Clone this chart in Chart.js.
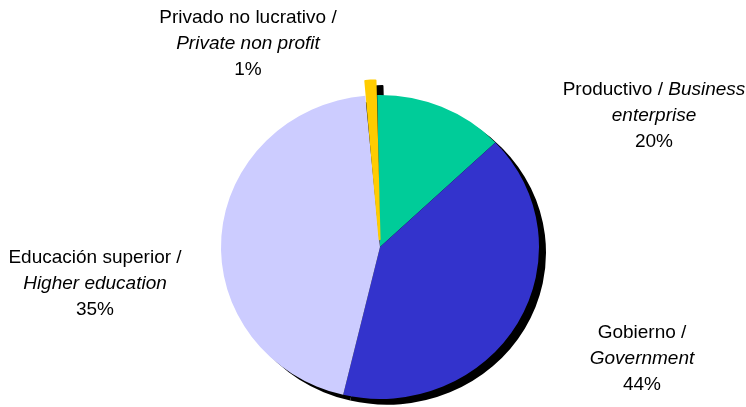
<!DOCTYPE html>
<html>
<head>
<meta charset="utf-8">
<script src="https://cdn.jsdelivr.net/npm/chart.js@4"></script>
<style>
  html, body { margin: 0; padding: 0; background: #fff; }
</style>
</head>
<body>
<canvas id="myChart" width="746" height="407"></canvas>
<script>
// sectors, clockwise from 12 o'clock
const sectors = ['Productivo / Business enterprise', 'Gobierno / Government', 'Educación superior / Higher education', 'Privado no lucrativo / Private non profit'];
// slice sizes as drawn in the picture (%)
const shares = [13.2, 40.8, 44.8, 1.2];
// percentages printed in the labels
const shareLabels = ['20%', '44%', '35%', '1%'];
const sliceColors = ['#00CC99', '#3333CC', '#CCCCFF', '#FFCC00'];

// label text: each line is a list of [text, italic]
const labelLines = [
  [[['Productivo / ', false], ['Business', true]], [['enterprise', true]], [[shareLabels[0], false]]],
  [[['Gobierno /', false]], [['Government', true]], [[shareLabels[1], false]]],
  [[['Educación superior /', false]], [['Higher education', true]], [[shareLabels[2], false]]],
  [[['Privado no lucrativo /', false]], [['Private non profit', true]], [[shareLabels[3], false]]]
];
// where each label block sits, relative to the pie centre (first line)
const labelAnchors = [[274, -157], [262, 86], [-285, 11], [-132, -229]];

const FONT = '"Liberation Sans", Arial, sans-serif';
const FONT_SIZE = 19;
const LINE_H = 26;
const SHADOW_X = 7;
const SHADOW_Y = 6;
const Y_SQUASH = 0.956;

const pieLook = {
  id: 'pieLook',
  beforeDatasetsDraw(chart) {
    const ctx = chart.ctx;
    const arcs = chart.getDatasetMeta(0).data;
    const cx = arcs[0].x, cy = arcs[0].y;
    ctx.save();
    // slightly wider than tall, like the original
    ctx.translate(cx, cy);
    ctx.scale(1, Y_SQUASH);
    ctx.translate(-cx, -cy);
    // black drop shadow under every slice
    ctx.save();
    ctx.translate(SHADOW_X, SHADOW_Y);
    arcs.forEach(arc => {
      const o = arc.options;
      arc.options = Object.assign({}, o, { backgroundColor: '#000', borderColor: '#000' });
      arc.draw(ctx);
      arc.options = o;
    });
    ctx.restore();
  },
  afterDatasetsDraw(chart) {
    chart.ctx.restore();
  },
  afterDraw(chart) {
    const ctx = chart.ctx;
    const arcs = chart.getDatasetMeta(0).data;
    const cx = arcs[0].x, cy = arcs[0].y;
    ctx.save();
    ctx.fillStyle = '#000';
    ctx.textBaseline = 'middle';
    ctx.textAlign = 'left';
    labelLines.forEach((lines, i) => {
      const ax = cx + labelAnchors[i][0];
      let ay = cy + labelAnchors[i][1];
      lines.forEach(segs => {
        let total = 0;
        const widths = segs.map(([t, it]) => {
          ctx.font = (it ? 'italic ' : '') + FONT_SIZE + 'px ' + FONT;
          const w = ctx.measureText(t).width;
          total += w;
          return w;
        });
        let x = ax - total / 2;
        segs.forEach(([t, it], k) => {
          ctx.font = (it ? 'italic ' : '') + FONT_SIZE + 'px ' + FONT;
          ctx.fillText(t, x, ay);
          x += widths[k];
        });
        ay += LINE_H;
      });
    });
    ctx.restore();
  }
};

new Chart(document.getElementById('myChart'), {
  type: 'pie',
  data: {
    labels: sectors,
    datasets: [{
      data: shares,
      backgroundColor: sliceColors,
      borderColor: sliceColors,
      borderWidth: [0, 0, 0, 2],
      borderJoinStyle: 'round',
      offset: [0, 0, 0, 32],
      clip: false
    }]
  },
  options: {
    responsive: false,
    devicePixelRatio: 1,
    animation: false,
    events: [],
    radius: 159,
    rotation: -1,
    layout: { padding: { left: 14, right: 0, top: 87, bottom: 0 } },
    plugins: {
      legend: { display: false },
      tooltip: { enabled: false }
    }
  },
  plugins: [pieLook]
});
</script>
</body>
</html>
